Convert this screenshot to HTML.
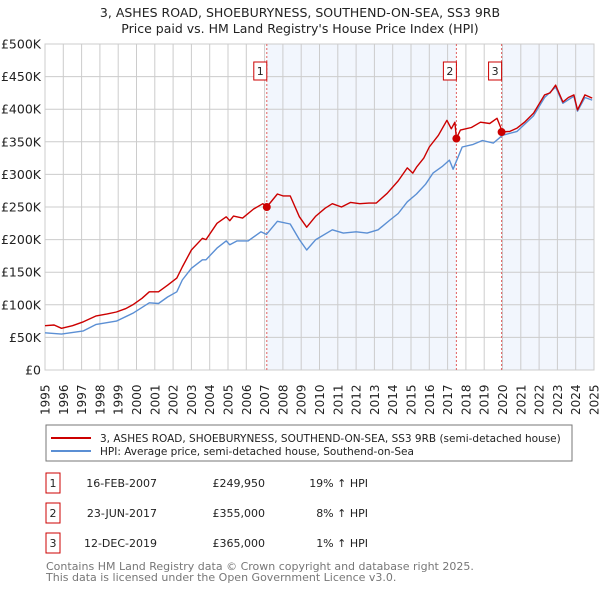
<!DOCTYPE html>
<html><head><meta charset="utf-8"><style>
body{margin:0;background:#fff;font-family:"DejaVu Sans","Liberation Sans",sans-serif;}
#wrap{position:relative;width:600px;height:590px;overflow:hidden}
svg text{font-family:"DejaVu Sans","Liberation Sans",sans-serif}
</style></head><body><div id="wrap">
<svg id="chart" width="600" height="590"></svg>
</div>
<script>
const yearTicks=[1995,1996,1997,1998,1999,2000,2001,2002,2003,2004,2005,2006,2007,2008,2009,2010,2011,2012,2013,2014,2015,2016,2017,2018,2019,2020,2021,2022,2023,2024,2025];
const priceTicks=[0,50,100,150,200,250,300,350,400,450,500];
const priceTickLabels=["£0","£50K","£100K","£150K","£200K","£250K","£300K","£350K","£400K","£450K","£500K"];
const redYears=[1995.0,1995.5,1995.9,1996.5,1997.1,1997.8,1998.4,1998.9,1999.4,1999.8,2000.3,2000.7,2001.2,2001.7,2002.2,2002.5,2003.0,2003.6,2003.8,2004.4,2004.9,2005.1,2005.3,2005.8,2006.4,2006.9,2007.12,2007.7,2008.0,2008.4,2008.9,2009.3,2009.8,2010.3,2010.7,2011.2,2011.7,2012.2,2012.7,2013.1,2013.7,2014.3,2014.8,2015.1,2015.3,2015.7,2016.0,2016.5,2016.96,2017.2,2017.4,2017.48,2017.7,2018.3,2018.8,2019.3,2019.7,2019.9,2019.95,2020.4,2020.8,2021.2,2021.7,2022.3,2022.6,2022.9,2023.3,2023.6,2023.9,2024.1,2024.5,2024.9];
const redValues=[68,69,64,68,74,83,86,89,94,100,110,120,120,130,141,158,184,202,200,225,235,229,236,233,247,255,250,270,267,267,235,219,236,248,255,250,257,255,256,256,271,290,310,302,311,325,342,360,383,370,380,355,368,372,380,378,386,372,365,366,371,380,394,422,425,437,411,418,422,399,422,417];
const blueYears=[1995.0,1995.9,1997.1,1997.8,1998.9,1999.8,2000.7,2001.2,2001.7,2002.2,2002.5,2003.0,2003.6,2003.8,2004.4,2004.9,2005.1,2005.5,2006.1,2006.8,2007.1,2007.7,2008.4,2008.9,2009.3,2009.8,2010.7,2011.3,2012.0,2012.6,2013.2,2013.85,2014.3,2014.8,2015.3,2015.8,2016.2,2016.7,2017.1,2017.3,2017.8,2018.4,2018.9,2019.5,2020.0,2020.8,2021.7,2022.3,2022.9,2023.3,2023.9,2024.1,2024.5,2024.9];
const blueValues=[57,55,60,70,75,87,103,102,112,120,138,156,169,169,187,198,192,198,198,212,208,228,224,200,184,200,215,210,212,210,215,230,240,258,270,285,302,312,322,308,342,346,352,348,360,366,390,418,434,409,420,397,418,414];
const saleYears=[2007.12,2017.48,2019.95];
const salePrices=[249.95,355,365];
const saleLabels=["1","2","3"];

const NS="http://www.w3.org/2000/svg";
const svg=document.getElementById('chart');
const X0=45,X1=594,Y0=370,Y1=44;
const xs=y=>X0+(y-1995)/(2025-1995)*(X1-X0);
const ys=v=>Y0-v/500*(Y0-Y1);
function mk(tag,attrs,parent){const e=document.createElementNS(NS,tag);for(const k in attrs)e.setAttribute(k,attrs[k]);(parent||svg).appendChild(e);return e;}

const t1=mk('text',{x:300,y:17,'text-anchor':'middle','font-size':12.5,fill:'#222'});t1.textContent='3, ASHES ROAD, SHOEBURYNESS, SOUTHEND-ON-SEA, SS3 9RB';


const t2=mk('text',{x:300,y:33,'text-anchor':'middle','font-size':12.5,fill:'#222'});t2.textContent="Price paid vs. HM Land Registry's House Price Index (HPI)";



const sh1=mk('rect',{x:xs(saleYears[0]),y:Y1,width:xs(saleYears[1])-xs(saleYears[0]),height:Y0-Y1,fill:'#eef3fc',opacity:0.75});


const sh2=mk('rect',{x:xs(saleYears[2]),y:Y1,width:X1-xs(saleYears[2]),height:Y0-Y1,fill:'#eef3fc',opacity:0.75});



yearTicks.forEach(y=>{const l=mk('line',{x1:xs(y),x2:xs(y),y1:Y1,y2:Y0,stroke:'#cccccc','stroke-width':1});


const t=mk('text',{x:0,y:0,transform:`translate(${xs(y)+4.5},${Y0+45}) rotate(-90)`,'font-size':12,fill:'#222'});t.textContent=y;

});
priceTicks.forEach((v,i)=>{const l=mk('line',{x1:X0,x2:X1,y1:ys(v),y2:ys(v),stroke:'#cccccc','stroke-width':1});


const t=mk('text',{x:X0-4,y:ys(v)+4.5,'text-anchor':'end','font-size':12.5,fill:'#222'});t.textContent=priceTickLabels[i];

});
const bd=mk('rect',{x:X0,y:Y1,width:X1-X0,height:Y0-Y1,fill:'none',stroke:'#cccccc'});



saleYears.forEach((y,i)=>{const l=mk('line',{x1:xs(y),x2:xs(y),y1:Y1,y2:Y0,stroke:'#e06060','stroke-width':1,'stroke-dasharray':'2,2'});


const r=mk('rect',{x:xs(y)-13,y:62,width:13,height:18,fill:'#fff',stroke:'#cc0000'});


const t=mk('text',{x:xs(y)-6.5,y:75,'text-anchor':'middle','font-size':11,fill:'#222'});t.textContent=saleLabels[i];

});

function line(xsArr,vals,color,name){const d=xsArr.map((y,i)=>(i?'L':'M')+xs(y).toFixed(1)+','+ys(vals[i]).toFixed(1)).join('');
const p=mk('path',{d:d,fill:'none',stroke:color,'stroke-width':1.4,'stroke-linejoin':'round'});

}
line(blueYears,blueValues,'#5b8fd4','hpi-line');
line(redYears,redValues,'#cc0000','price-paid-line');
saleYears.forEach((y,i)=>{const c=mk('circle',{cx:xs(y),cy:ys(salePrices[i]),r:4,fill:'#cc0000'});

});

const lg=mk('rect',{x:46,y:425,width:526,height:36,fill:'#fff',stroke:'#777'});


const l1=mk('line',{x1:51,x2:91,y1:438,y2:438,stroke:'#cc0000','stroke-width':2});


const lt1=mk('text',{x:100,y:442,'font-size':10.5,fill:'#222'});lt1.textContent='3, ASHES ROAD, SHOEBURYNESS, SOUTHEND-ON-SEA, SS3 9RB (semi-detached house)';


const l2=mk('line',{x1:51,x2:91,y1:451,y2:451,stroke:'#5b8fd4','stroke-width':2});


const lt2=mk('text',{x:100,y:455,'font-size':10.5,fill:'#222'});lt2.textContent='HPI: Average price, semi-detached house, Southend-on-Sea';



const dates=["16-FEB-2007","23-JUN-2017","12-DEC-2019"];
const prices=["£249,950","£355,000","£365,000"];
const hpis=["19% ↑ HPI","8% ↑ HPI","1% ↑ HPI"];
[0,1,2].forEach(i=>{const y=483+i*30;
const b=mk('rect',{x:46,y:y-10,width:14,height:20,fill:'#fff',stroke:'#cc0000'});


const n=mk('text',{x:53,y:y+4,'text-anchor':'middle','font-size':11,fill:'#222'});n.textContent=saleLabels[i];


const d=mk('text',{x:157,y:y+4,'text-anchor':'end','font-size':11,fill:'#222'});d.textContent=dates[i];


const p=mk('text',{x:265,y:y+4,'text-anchor':'end','font-size':11,fill:'#222'});p.textContent=prices[i];


const h=mk('text',{x:368,y:y+4,'text-anchor':'end','font-size':11,fill:'#222'});h.textContent=hpis[i];

});
const f1=mk('text',{x:46,y:570,'font-size':11,fill:'#777'});f1.textContent='Contains HM Land Registry data © Crown copyright and database right 2025.';


const f2=mk('text',{x:46,y:581,'font-size':11,fill:'#777'});f2.textContent='This data is licensed under the Open Government Licence v3.0.';


</script></body></html>
